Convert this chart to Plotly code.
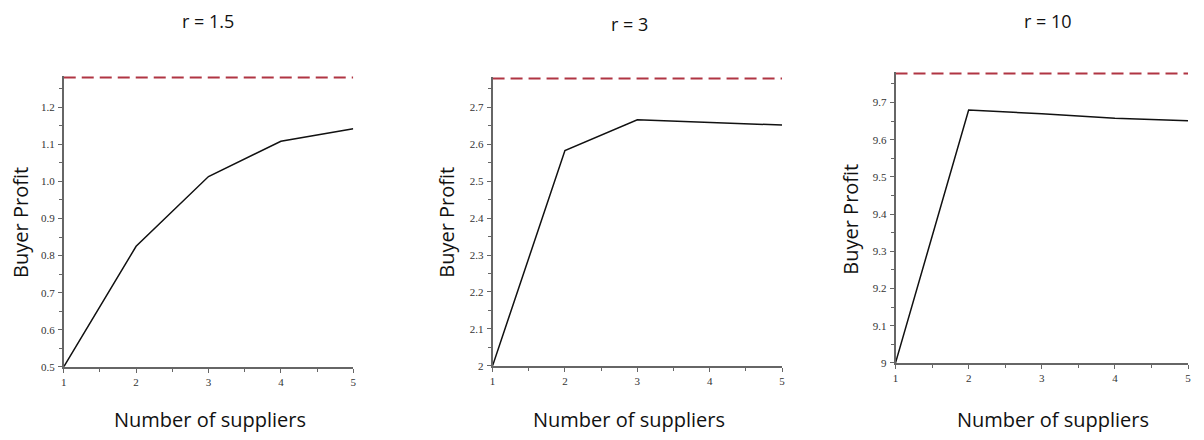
import plotly.graph_objects as go

# The page body has an 8px margin; figure is sized and offset to compensate.
OFF = 8
W, H = 1188, 424

suppliers = [1, 2, 3, 4, 5]
profit_r15 = [0.50, 0.825, 1.013, 1.108, 1.142]
profit_r3 = [2.00, 2.583, 2.666, 2.658, 2.652]
profit_r10 = [9.00, 9.680, 9.670, 9.658, 9.651]
upper_bound = [1.28, 2.778, 9.778]
titles = ["r = 1.5", "r = 3", "r = 10"]
x_title = "Number of suppliers"
y_title = "Buyer Profit"
y_ranges = [[0.5, 1.284], [2.0, 2.782], [9.0, 9.782]]
y_tickvals = [
    [0.5, 0.6, 0.7, 0.8, 0.9, 1.0, 1.1, 1.2],
    [2.0, 2.1, 2.2, 2.3, 2.4, 2.5, 2.6, 2.7],
    [9.0, 9.1, 9.2, 9.3, 9.4, 9.5, 9.6, 9.7],
]
y_ticktext = [
    ["0.5", "0.6", "0.7", "0.8", "0.9", "1.0", "1.1", "1.2"],
    ["2", "2.1", "2.2", "2.3", "2.4", "2.5", "2.6", "2.7"],
    ["9", "9.1", "9.2", "9.3", "9.4", "9.5", "9.6", "9.7"],
]
series = [profit_r15, profit_r3, profit_r10]

# pixel geometry of panels in the page (left, right, top, bottom)
panels_px = [(61, 352, 77, 372), (492, 783, 78, 371), (897, 1191, 73, 368)]
title_pos = [(206, 8), (630, 11), (1050, 8)]
xtitle_pos = [(208, 425), (629, 425), (1055, 425)]
ytitle_pos = [(18, 225), (446, 225), (852, 222)]


def px(x):
    return (x - OFF) / W


def py(y):
    return 1 - (y - OFF) / H


fig = go.Figure()
annotations = []
for i in range(3):
    xa = "x" if i == 0 else f"x{i+1}"
    ya = "y" if i == 0 else f"y{i+1}"
    fig.add_trace(go.Scatter(
        x=suppliers, y=[upper_bound[i]] * len(suppliers), xaxis=xa, yaxis=ya,
        mode="lines", line=dict(color="#b03543", width=2, dash="12px,6px"),
        showlegend=False, hoverinfo="skip"))
    fig.add_trace(go.Scatter(
        x=suppliers, y=series[i], xaxis=xa, yaxis=ya,
        mode="lines", line=dict(color="#111111", width=1.5),
        showlegend=False, cliponaxis=False))
    l, r, t, b = panels_px[i]
    axis_common = dict(
        showgrid=False, zeroline=False, showline=True, linecolor="#666666",
        linewidth=1.5, ticks="outside", ticklen=4, tickwidth=1, tickcolor="#666666",
        tickfont=dict(family="Liberation Serif", size=11, color="#333333"),
        fixedrange=True,
    )
    xkey = "xaxis" if i == 0 else f"xaxis{i+1}"
    ykey = "yaxis" if i == 0 else f"yaxis{i+1}"
    fig.update_layout(**{
        xkey: dict(axis_common, domain=[px(l), px(r)], anchor=ya, range=[1, 5],
                   tickvals=suppliers, ticktext=[str(s) for s in suppliers],
                   minor=dict(dtick=0.5, ticks="outside", ticklen=3, tickcolor="#666666")),
        ykey: dict(axis_common, domain=[py(b), py(t)], anchor=xa,
                   range=y_ranges[i], tickvals=y_tickvals[i], ticktext=y_ticktext[i],
                   ticklabelstandoff=1,
                   minor=dict(dtick=0.05, ticks="outside", ticklen=3, tickcolor="#666666")),
    })
    tx, ty = title_pos[i]
    annotations.append(dict(text=titles[i], x=px(tx), y=py(ty), xref="paper", yref="paper",
                            showarrow=False, xanchor="center", yanchor="top", borderpad=0,
                            font=dict(family="Open Sans", size=18, color="#111111")))
    xx, xy = xtitle_pos[i]
    annotations.append(dict(text=x_title, x=px(xx), y=py(xy), xref="paper", yref="paper",
                            showarrow=False, xanchor="center", yanchor="middle",
                            font=dict(family="Open Sans", size=20, color="#111111")))
    yx, yy = ytitle_pos[i]
    annotations.append(dict(text=y_title, x=px(yx), y=py(yy), xref="paper", yref="paper",
                            showarrow=False, xanchor="center", yanchor="middle", textangle=-90,
                            font=dict(family="Open Sans", size=20, color="#111111")))

fig.update_layout(
    width=W, height=H, margin=dict(l=0, r=0, t=0, b=0),
    paper_bgcolor="white", plot_bgcolor="white",
    annotations=annotations, showlegend=False,
)
fig.write_html("out.html")
